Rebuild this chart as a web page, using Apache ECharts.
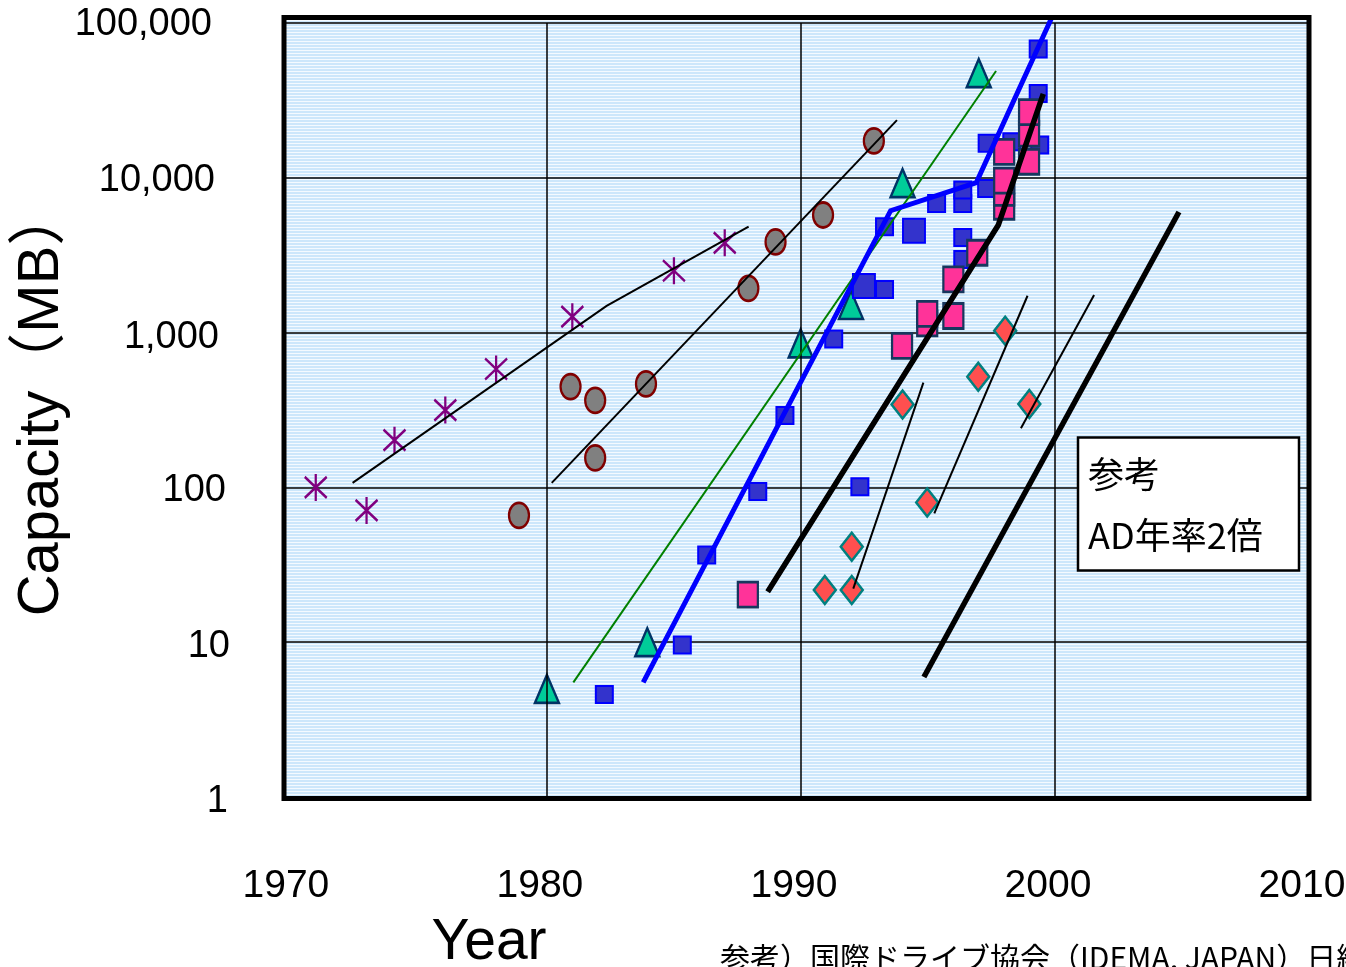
<!DOCTYPE html>
<html><head><meta charset="utf-8">
<script src="https://cdn.jsdelivr.net/npm/echarts@6/dist/echarts.min.js"></script>
<style>html,body{margin:0;padding:0;background:#fff}#c{width:1346px;height:967px}</style>
</head><body><div id="c"></div>
<script>
// ---- axis ticks ----
const xTickValues = [1970, 1980, 1990, 2000, 2010];
const xGridValues = [1980, 1990, 2000];
const yTickValues = [1, 10, 100, 1000, 10000, 100000];
const yTickLabels = ['1', '10', '100', '1,000', '10,000', '100,000'];

// ---- marker data [year, MB] ----
const stars = [[1970.9,100],[1972.9,71],[1974.0,202],[1976.0,316],[1978.0,582],[1981.0,1267],[1985.0,2510],[1987.0,3800]];
const circles = [[1978.9,66],[1980.93,448],[1981.9,365],[1981.9,155],[1983.9,466],[1987.93,1932],[1989.0,3850],[1990.87,5750],[1992.87,17300]];
const triangles = [[1980,5],[1983.95,10],[1989.99,852],[1991.97,1508],[1994.0,9250],[1997.0,47500]];
const blueSquares = [[1982.26,4.6],[1985.33,9.6],[1986.29,36.6],[1988.3,94],[1989.37,291],[1991.29,909],[1992.32,101],[1993.29,1900],[1993.29,4830],[1995.34,6830],[1996.37,2970],[1996.37,4120],[1996.37,6830],[1996.37,8330],[1997.31,8530],[1997.33,16700],[1998.3,17100],[1999.4,16300],[1999.34,35100],[1999.34,67900]];
const blueSquaresLarge = [[1992.48,2000],[1994.45,4550]];
const pinkSquares = [[1987.91,20.3],[1993.98,820],[1994.97,1146],[1994.97,1320],[1996.0,1280],[1996.0,2210],[1996.94,3280],[1998.0,6500],[1998.0,8000],[1998.0,9600],[1998.0,14700],[1998.98,12700],[1998.98,19300],[1998.98,26600]];
const diamonds = [[1990.94,21.7],[1992.0,21.7],[1992.0,41.3],[1994.0,343],[1994.97,80],[1996.98,519],[1998.04,1028],[1998.99,346]];

// ---- trend lines ----
const starLine = [[1972.35,107],[1982.35,1486],[1987.94,4830]];
const circleLine = [[1980.19,107],[1993.78,23600]];
const greenLine = [[1981.04,5.5],[1997.68,49000]];
const blueLine = [[1983.79,5.5],[1993.53,6130],[1996.9,9300],[1999.88,109000]];
const blackThick1 = [[1988.69,21.2],[1997.77,4960],[1999.54,34800]];
const blackThick2 = [[1994.84,5.96],[2004.88,6010]];
const thin1 = [[1992.06,22.2],[1994.82,475]];
const thin2 = [[1995.25,68],[1998.92,1730]];
const thin3 = [[1998.66,241],[2001.54,1750]];

// ---- texts ----
const yTitle = 'Capacity（MB）';
const xTitle = 'Year';
const noteLines = ['参考', 'AD年率2倍'];
const footnote = '参考）国際ドライブ協会（IDEMA, JAPAN）日経';

// stripe pattern for plot background
const pc = document.createElement('canvas');
pc.width = 4; pc.height = 3;
const g = pc.getContext('2d');
g.fillStyle = '#cde7fb'; g.fillRect(0, 0, 4, 3);
g.fillStyle = '#f4faff'; g.fillRect(0, 2, 4, 1);

const yRightPad = [2, 0, 4, 11, 15, 18];
const yDown = [5, 4, 3, 5, 3, 2];
const yRich = {};
yTickValues.forEach((v, i) => {
  yRich['a' + i] = {fontSize: 38, fontFamily: 'Liberation Sans, Arial, sans-serif', color: '#000',
    padding: [yDown[i] * 2, yRightPad[i], 0, 0]};
});

const starPath = 'path://M11,0L11,27M1,3L21,24M1,24L21,3';
const ellipsePath = 'path://M10,0A10,12.5 0 1,1 10,25A10,12.5 0 1,1 10,0Z';

function lineSeries(data, color, width, extra) {
  return Object.assign({type: 'line', data: data, symbol: 'none', silent: true,
    lineStyle: {color: color, width: width, cap: 'butt', join: 'miter'}, z: 5}, extra || {});
}

const chart = echarts.init(document.getElementById('c'), null, {renderer: 'canvas'});
chart.setOption({
  animation: false,
  grid: {left: 284, right: 37, top: 23, bottom: 170, containLabel: false, outerBoundsMode: 'none'},
  xAxis: {
    type: 'value', min: 1969.65, max: 2010,
    axisLine: {show: false}, axisTick: {show: false}, splitLine: {show: false},
    axisLabel: {
      customValues: xTickValues,
      fontSize: 39, fontFamily: 'Liberation Sans, Arial, sans-serif',
      color: '#000', margin: 89, verticalAlign: 'middle', padding: [0, 14, 0, 0],
      formatter: v => String(Math.round(v))
    }
  },
  yAxis: {
    type: 'log', logBase: 10, min: 1, max: 100000,
    axisLine: {show: false}, axisTick: {show: false},
    splitLine: {show: true, lineStyle: {color: '#000', width: 1.5}},
    axisLabel: {
      margin: 54, align: 'right',
      formatter: v => {
        const i = yTickValues.findIndex(t => Math.abs(t - v) / t < 1e-6);
        return i < 0 ? '' : '{a' + i + '|' + yTickLabels[i] + '}';
      },
      rich: yRich
    }
  },
  graphic: [
    {type: 'rect', z: -100, silent: true, shape: {x: 284, y: 17.5, width: 1025, height: 781},
      style: {fill: {image: pc, repeat: 'repeat'}}},
    {type: 'rect', z: 100, silent: true, shape: {x: 284, y: 17.5, width: 1025, height: 781},
      style: {fill: 'none', stroke: '#000', lineWidth: 5}},
    {type: 'rect', z: 60, silent: true, shape: {x: 1078, y: 437.5, width: 221, height: 133},
      style: {fill: '#fff', stroke: '#000', lineWidth: 2.5}},
    {type: 'text', z: 61, silent: true, x: 1088, y: 474,
      style: {text: noteLines[0], fontSize: 36, fontFamily: 'Noto Sans CJK JP, sans-serif', fill: '#000', verticalAlign: 'middle'}},
    {type: 'text', z: 61, silent: true, x: 1088, y: 535,
      style: {text: noteLines[1], fontSize: 36, fontFamily: 'Noto Sans CJK JP, sans-serif', fill: '#000', verticalAlign: 'middle'}},
    {type: 'text', z: 61, silent: true, x: 42, y: 402, rotation: Math.PI / 2,
      style: {text: yTitle, fontSize: 58, fontFamily: 'Liberation Sans, Noto Sans CJK JP, sans-serif', fill: '#000', align: 'center', verticalAlign: 'middle'}},
    {type: 'text', z: 61, silent: true, x: 489, y: 943,
      style: {text: xTitle, fontSize: 57, fontFamily: 'Liberation Sans, sans-serif', fill: '#000', align: 'center', verticalAlign: 'middle'}},
    {type: 'text', z: 61, silent: true, x: 720, y: 943,
      style: {text: footnote, fontSize: 30, fontFamily: 'Noto Sans CJK JP, sans-serif', fill: '#000', verticalAlign: 'top'}}
  ],
  series: [
    {type: 'line', data: [], z: 1, silent: true,
      markLine: {silent: true, symbol: 'none', label: {show: false}, animation: false,
        lineStyle: {color: '#000', width: 1.5, type: 'solid'},
        data: xGridValues.map(v => ({xAxis: v}))}},
    {type: 'scatter', data: stars, symbol: starPath, symbolSize: [22, 27], silent: true,
      itemStyle: {color: 'rgba(0,0,0,0)', borderColor: '#800080', borderWidth: 2.5, opacity: 1}},
    {type: 'scatter', data: circles, symbol: ellipsePath, symbolSize: [20, 25], silent: true,
      itemStyle: {color: '#808080', borderColor: '#800000', borderWidth: 2.5, opacity: 1}},
    {type: 'scatter', data: triangles, symbol: 'triangle', symbolSize: [24, 28], silent: true,
      itemStyle: {color: '#00cc99', borderColor: '#003366', borderWidth: 2.5, opacity: 1}},
    {type: 'scatter', data: blueSquares, symbol: 'rect', symbolSize: [17, 17], silent: true,
      itemStyle: {color: '#3333cc', borderColor: '#0000ff', borderWidth: 2, opacity: 1}},
    {type: 'scatter', data: blueSquaresLarge, symbol: 'rect', symbolSize: [22, 24], silent: true,
      itemStyle: {color: '#3333cc', borderColor: '#0000ff', borderWidth: 2, opacity: 1}},
    {type: 'scatter', data: pinkSquares, symbol: 'rect', symbolSize: [20, 25], silent: true,
      itemStyle: {color: '#ff3399', borderColor: '#17375e', borderWidth: 2.5, opacity: 1}},
    {type: 'scatter', data: diamonds, symbol: 'diamond', symbolSize: [22, 28], silent: true,
      itemStyle: {color: '#ff4f4f', borderColor: '#008080', borderWidth: 2.5, opacity: 1}},
    lineSeries(starLine, '#000', 2),
    lineSeries(circleLine, '#000', 2),
    lineSeries(greenLine, '#008000', 2),
    lineSeries(blueLine, '#0000ff', 5, {clip: false}),
    lineSeries(blackThick1, '#000', 5.5),
    lineSeries(blackThick2, '#000', 5.5),
    lineSeries(thin1, '#000', 2),
    lineSeries(thin2, '#000', 2),
    lineSeries(thin3, '#000', 2)
  ]
});
</script></body></html>
